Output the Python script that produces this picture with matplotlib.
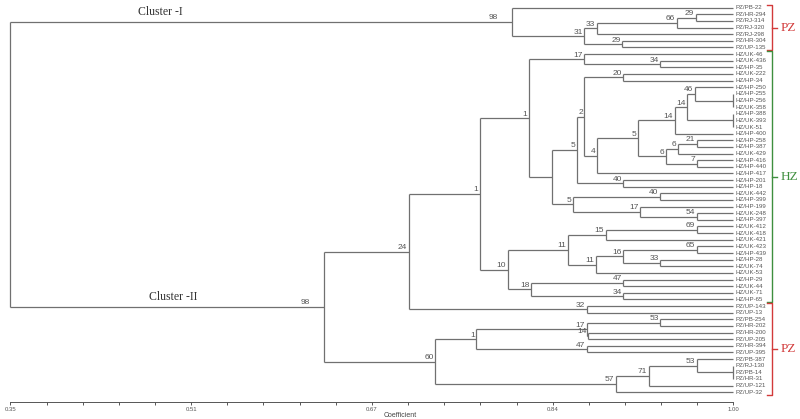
import matplotlib
matplotlib.use("Agg")
import matplotlib.pyplot as plt

plt.rcParams["font.family"] = ["Liberation Sans", "DejaVu Sans"]

# leaves, top to bottom
leaf_names = [
    "PZ/PB-22", "PZ/HR-294", "PZ/RJ-314", "PZ/RJ-320", "PZ/RJ-298", "PZ/HR-304", "PZ/UP-135",
    "HZ/UK-46", "HZ/UK-436", "HZ/HP-35", "HZ/UK-222", "HZ/HP-34", "HZ/HP-250", "HZ/HP-255",
    "HZ/HP-256", "HZ/UK-358", "HZ/HP-388", "HZ/UK-393", "HZ/UK-51", "HZ/HP-400", "HZ/HP-258",
    "HZ/HP-387", "HZ/UK-429", "HZ/HP-416", "HZ/HP-440", "HZ/HP-417", "HZ/HP-201", "HZ/HP-18",
    "HZ/UK-442", "HZ/HP-399", "HZ/HP-199", "HZ/UK-248", "HZ/HP-397", "HZ/UK-412", "HZ/UK-418",
    "HZ/UK-421", "HZ/UK-423", "HZ/HP-439", "HZ/HP-28", "HZ/UK-74", "HZ/UK-53", "HZ/HP-29",
    "HZ/UK-44", "HZ/UK-71", "HZ/HP-65", "PZ/UP-143", "PZ/UP-13", "PZ/PB-254", "PZ/HR-202",
    "PZ/HR-200", "PZ/UP-205", "PZ/HR-394", "PZ/UP-395", "PZ/PB-387", "PZ/RJ-130", "PZ/PB-14",
    "PZ/HR-31", "PZ/UP-121", "PZ/UP-32",
]

# internal nodes: children, similarity coefficient, bootstrap support
node_names = [
    "root", "A", "B", "C", "E", "F", "D",
    "II", "n24", "n1b", "n1a", "n17", "n34", "n0", "n5a", "n2", "n20", "n4", "n5b",
    "n14a", "n14b", "n46", "g0", "g1", "n6a", "n6b", "n21", "n7", "n40a", "n5c",
    "n40b", "n17b", "n54", "n10", "n11a", "n15", "n69", "n11b", "n16", "n65", "n33",
    "n18", "n47", "n34b", "n32", "n60", "n1c", "n17c", "n14c", "n53a", "n47b",
    "n57", "n71", "n53b", "g2",
]
node_children = [
    ["A", "II"], ["PZ/PB-22", "B"], ["C", "D"], ["E", "PZ/RJ-298"], ["F", "PZ/RJ-320"],
    ["PZ/HR-294", "PZ/RJ-314"], ["PZ/HR-304", "PZ/UP-135"],
    ["n24", "n60"], ["n1b", "n32"], ["n1a", "n10"], ["n17", "n0"], ["HZ/UK-46", "n34"],
    ["HZ/UK-436", "HZ/HP-35"], ["n5a", "n5c"], ["n2", "n40a"], ["n20", "n4"],
    ["HZ/UK-222", "HZ/HP-34"], ["n5b", "HZ/HP-417"], ["n14a", "n6a"],
    ["n14b", "HZ/HP-400"], ["n46", "g1"], ["HZ/HP-250", "g0"],
    ["HZ/HP-255", "HZ/HP-256", "HZ/UK-358"], ["HZ/HP-388", "HZ/UK-393", "HZ/UK-51"],
    ["n6b", "n7"], ["n21", "HZ/UK-429"], ["HZ/HP-258", "HZ/HP-387"],
    ["HZ/HP-416", "HZ/HP-440"], ["HZ/HP-201", "HZ/HP-18"], ["n40b", "n17b"],
    ["HZ/UK-442", "HZ/HP-399"], ["HZ/HP-199", "n54"], ["HZ/UK-248", "HZ/HP-397"],
    ["n11a", "n18"], ["n15", "n11b"], ["n69", "HZ/UK-421"], ["HZ/UK-412", "HZ/UK-418"],
    ["n16", "HZ/UK-53"], ["n65", "n33"], ["HZ/UK-423", "HZ/HP-439"],
    ["HZ/HP-28", "HZ/UK-74"], ["n47", "n34b"], ["HZ/HP-29", "HZ/UK-44"],
    ["HZ/UK-71", "HZ/HP-65"], ["PZ/UP-143", "PZ/UP-13"], ["n1c", "n57"],
    ["n17c", "n47b"], ["n53a", "n14c"], ["PZ/HR-200", "PZ/UP-205"],
    ["PZ/PB-254", "PZ/HR-202"], ["PZ/HR-394", "PZ/UP-395"], ["n71", "PZ/UP-32"],
    ["n53b", "PZ/UP-121"], ["PZ/PB-387", "g2"], ["PZ/RJ-130", "PZ/PB-14", "PZ/HR-31"],
]
node_coef = [
    0.350, 0.801, 0.866, 0.877, 0.949, 0.966, 0.900,
    0.632, 0.708, 0.772, 0.816, 0.866, 0.934, 0.837, 0.859, 0.866, 0.901, 0.877, 0.914,
    0.947, 0.958, 0.965, 1.000, 1.000, 0.939, 0.950, 0.967, 0.967, 0.901, 0.856,
    0.934, 0.916, 0.967, 0.797, 0.851, 0.885, 0.967, 0.876, 0.901, 0.967, 0.934,
    0.818, 0.901, 0.901, 0.868, 0.732, 0.769, 0.868, 0.869, 0.934, 0.868,
    0.894, 0.924, 0.967, 1.000,
]
node_support = [
    "", "98", "31", "33", "66", "29", "29",
    "98", "24", "1", "1", "17", "34", "", "5", "2", "20", "4", "5",
    "14", "14", "46", "", "", "6", "6", "21", "7", "40", "5",
    "40", "17", "54", "10", "11", "15", "69", "11", "16", "65", "33",
    "18", "47", "34", "32", "60", "1", "17", "14", "53", "47",
    "57", "71", "53", "",
]

groups = ["PZ", "HZ", "PZ"]
group_first = ["PZ/PB-22", "HZ/UK-46", "PZ/UP-143"]
group_last = ["PZ/UP-135", "HZ/HP-65", "PZ/UP-32"]
group_colors = ["#d23a3a", "#3f8f3f", "#d23a3a"]

LINE = "#707070"
PX = 1 / 1112.6          # one pixel in coefficient units
children = dict(zip(node_names, node_children))
coef = dict(zip(node_names, node_coef))
support = dict(zip(node_names, node_support))
leaf_y = {n: i for i, n in enumerate(leaf_names)}

fig = plt.figure(figsize=(8, 4.19), dpi=100)
ax = fig.add_axes([0, 17 / 419, 1, 402 / 419])
ax.set_xlim(0.3407, 1.0598)
ax.set_ylim(59.47, -1.16)

node_y = {}


def draw(name):
    if name in leaf_y:
        return leaf_y[name], 1.0
    x = coef[name]
    ys = []
    for ch in children[name]:
        cy, cx = draw(ch)
        ax.plot([x, cx], [cy, cy], color=LINE, lw=0.9, solid_capstyle="butt")
        ys.append(cy)
    ax.plot([x, x], [min(ys), max(ys)], color=LINE, lw=0.9, solid_capstyle="butt")
    y = (min(ys) + max(ys)) / 2
    node_y[name] = y
    lab = support[name]
    if lab:
        off = 14 if name in ("A", "II") else 1.5
        ax.text(x - off * PX, y - 0.08, lab, ha="right", va="bottom",
                fontsize=6.0, color="#555555")
    return y, x


draw("root")

for n, y in leaf_y.items():
    ax.text(1.0 + 2 * PX, y, n, ha="left", va="center", fontsize=4.4, color="#555555")

ax.text(0.4845, node_y["A"] - 1.5, "Cluster -I", family="Liberation Serif",
        fontsize=8.5, color="#333333", ha="center", va="center")
ax.text(0.4965, node_y["II"] - 1.5, "Cluster -II", family="Liberation Serif",
        fontsize=8.5, color="#333333", ha="center", va="center")

# group brackets on the right
bx = 1.0 + 39 * PX
for g, a, b, c in zip(groups, group_first, group_last, group_colors):
    y0, y1 = leaf_y[a] - 0.4, leaf_y[b] + 0.4
    ax.plot([bx - 5 * PX, bx, bx, bx - 5 * PX], [y0, y0, y1, y1], color=c, lw=1.0,
            clip_on=False)
    ym = (y0 + y1) / 2
    ax.plot([bx, bx + 5 * PX], [ym, ym], color=c, lw=1.0, clip_on=False)
    ax.text(bx + 8 * PX, ym, g, family="Liberation Serif", fontsize=9.5, color=c,
            ha="left", va="center")

major = [0.35, 0.5125, 0.675, 0.8375, 1.0]
ax.set_xticks(major)
ax.set_xticklabels(["0.35", "0.51", "0.67", "0.84", "1.00"])
ax.set_xticks([0.35 + 0.0325 * k for k in range(21)], minor=True)
ax.tick_params(axis="x", which="both", labelsize=4.3, length=2.5, width=0.7,
               colors="#555555", pad=1)
ax.set_yticks([])
for s in ("top", "left", "right"):
    ax.spines[s].set_visible(False)
ax.spines["bottom"].set_bounds(0.35, 1.0)
ax.spines["bottom"].set_color("#555555")
ax.spines["bottom"].set_linewidth(0.7)
ax.set_xlabel("Coefficient", fontsize=5, color="#444444", labelpad=0)

fig.savefig("out.png", dpi=100)
plt.close(fig)
